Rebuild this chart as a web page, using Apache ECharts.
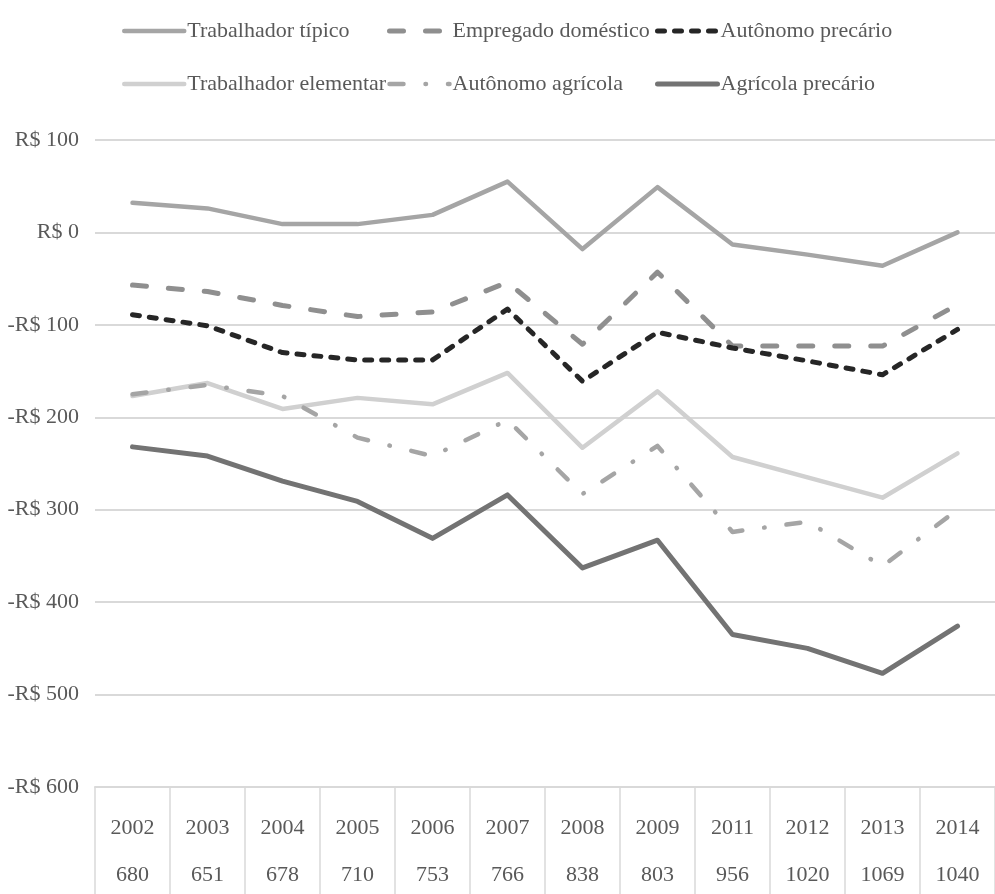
<!DOCTYPE html>
<html>
<head>
<meta charset="utf-8">
<script src="https://cdn.jsdelivr.net/npm/echarts@6/dist/echarts.min.js"></script>
<style>html,body{margin:0;padding:0;background:#fff}#c{width:995px;height:894px}</style>
</head>
<body>
<div id="c"></div>
<script>
var years = ['2002','2003','2004','2005','2006','2007','2008','2009','2011','2012','2013','2014'];
var counts = ['680','651','678','710','753','766','838','803','956','1020','1069','1040'];
var yTicks = [100, 0, -100, -200, -300, -400, -500, -600];

var trabalhadorTipico    = [32, 26, 9, 9, 19, 55, -18, 49, -13, -24, -36, 0];
var empregadoDomestico   = [-57, -64, -79, -91, -86, -54, -121, -43, -123, -123, -123, -78];
var autonomoPrecario     = [-89, -101, -130, -138, -138, -83, -161, -108, -125, -139, -154, -105];
var trabalhadorElementar = [-177, -163, -191, -179, -186, -152, -233, -172, -243, -265, -287, -239];
var autonomoAgricola     = [-175, -165, -177, -222, -242, -203, -283, -231, -324, -313, -361, -300];
var agricolaPrecario     = [-232, -242, -269, -291, -331, -284, -363, -333, -435, -450, -477, -426];

var FONT = 'Liberation Serif';
var TXT = '#595959';
var GRID = '#d9d9d9';

function mk(name, data, color, type, width) {
  return {
    name: name, type: 'line', data: data, symbol: 'none', smooth: false,
    lineStyle: { color: color, width: width, type: type, cap: 'round', join: 'round' },
    itemStyle: { color: color },
    emphasis: { disabled: true }
  };
}

var legendBase = {
  orient: 'vertical', top: 15, itemWidth: 60, itemHeight: 14, itemGap: 31,
  textStyle: { fontFamily: FONT, fontSize: 22, color: TXT, lineHeight: 22, padding: [0, 0, 0, -2] },
  itemStyle: { opacity: 0 },
  lineStyle: { width: 'inherit', type: 'inherit', cap: 'round' }
};

var chart = echarts.init(document.getElementById('c'));
chart.setOption({
  animation: false,
  backgroundColor: '#fff',
  legend: [
    Object.assign({}, legendBase, { left: 117, data: ['Trabalhador típico', 'Trabalhador elementar'] }),
    Object.assign({}, legendBase, { left: 382, data: ['Empregado doméstico', 'Autônomo agrícola'] }),
    Object.assign({}, legendBase, { left: 650, data: ['Autônomo precário', 'Agrícola precário'] })
  ],
  grid: { left: 95, right: 0, top: 140, bottom: 107, containLabel: false },
  xAxis: {
    type: 'category', data: years, boundaryGap: true,
    axisLine: { show: true, onZero: false, lineStyle: { color: GRID, width: 2 } },
    axisTick: { show: true, interval: 0, length: 110, lineStyle: { color: GRID, width: 1.5 } },
    axisLabel: {
      interval: 0, margin: 18,
      formatter: function (v, i) { return '{a|' + v + '}\n{a|' + counts[i] + '}'; },
      rich: { a: { fontFamily: FONT, fontSize: 22, color: TXT, lineHeight: 47, align: 'center' } }
    }
  },
  yAxis: {
    type: 'value', min: -600, max: 100, interval: 100,
    axisLine: { show: false }, axisTick: { show: false },
    splitLine: { show: true, lineStyle: { color: GRID, width: 2 } },
    axisLabel: {
      margin: 16, fontFamily: FONT, fontSize: 22, color: TXT,
      formatter: function (v) { return (v < 0 ? '-R$ ' + Math.abs(v) : 'R$ ' + v); }
    }
  },
  series: [
    mk('Trabalhador típico', trabalhadorTipico, '#a5a5a5', 'solid', 4.5),
    mk('Empregado doméstico', empregadoDomestico, '#8f8f8f', [14, 22], 5),
    mk('Autônomo precário', autonomoPrecario, '#262626', [7, 10], 5),
    mk('Trabalhador elementar', trabalhadorElementar, '#d0d0d0', 'solid', 4.5),
    mk('Autônomo agrícola', autonomoAgricola, '#a5a5a5', [14, 22, 0.5, 22], 4.5),
    mk('Agrícola precário', agricolaPrecario, '#737373', 'solid', 5)
  ]
});
</script>
</body>
</html>
